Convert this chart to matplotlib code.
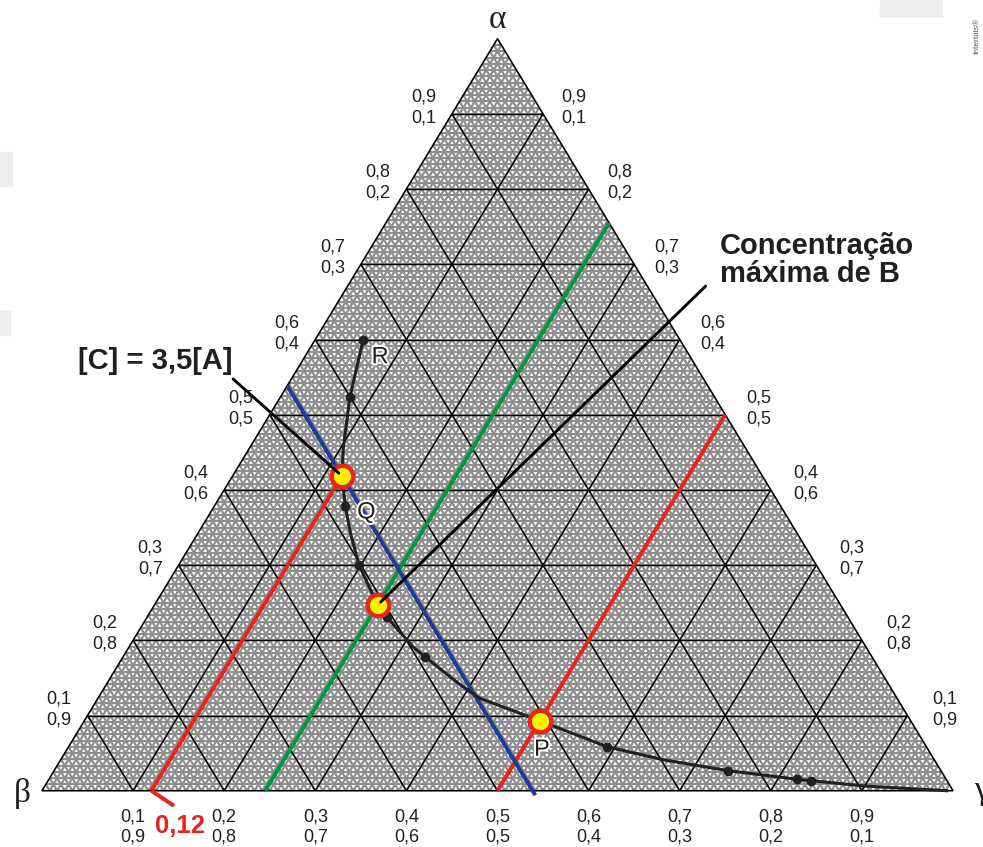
import numpy as np
import matplotlib.pyplot as plt
from matplotlib.collections import LineCollection
from matplotlib.patches import Polygon, Rectangle
import matplotlib.patheffects as pe

plt.rcParams['font.family'] = ['Liberation Sans', 'DejaVu Sans']

# solubility curve, as (alpha, gamma) fractions
curve_alpha = [0.599, 0.524, 0.453, 0.4185, 0.378, 0.343, 0.300, 0.247, 0.231,
               0.191, 0.178, 0.140, 0.123, 0.093, 0.0585, 0.041, 0.0266, 0.0152,
               0.0133, 0.0063, 0.0]
curve_gamma = [0.053, 0.076, 0.104, 0.120, 0.144, 0.167, 0.198, 0.245, 0.263,
               0.312, 0.3315, 0.390, 0.419, 0.500, 0.591, 0.662, 0.740, 0.821,
               0.838, 0.899, 0.993]

# measured points marked on the curve
dot_alpha = [0.599, 0.524, 0.378, 0.300, 0.231, 0.178, 0.0585, 0.0266, 0.0152, 0.0133]
dot_gamma = [0.053, 0.076, 0.144, 0.198, 0.263, 0.3315, 0.591, 0.740, 0.821, 0.838]

# highlighted points (on the red / green lines)
key_alpha = [0.4185, 0.247, 0.093]
key_gamma = [0.120, 0.245, 0.500]

red_gamma = [0.12, 0.50]
red_top = [0.4185, 0.50]
green_gamma = 0.245
blue_beta = 0.4615

ticks = [0.1, 0.2, 0.3, 0.4, 0.5, 0.6, 0.7, 0.8, 0.9]

INK = '#231f20'
RED = '#e4261c'
GREEN = '#06963f'
BLUE = '#1c3f94'
YELLOW = '#fff200'


def tern(a, c):
    a = np.asarray(a, dtype=float)
    c = np.asarray(c, dtype=float)
    return c + a / 2, a


def fmt(v):
    return ('%.1f' % v).replace('.', ',')


fig = plt.figure(figsize=(9.83, 8.47), dpi=100)
ax = fig.add_axes([0, 0, 1, 1])
ax.set_xlim(-42 / 911, 941 / 911)
ax.set_ylim(-56.3 / 752, 790.7 / 752)
ax.axis('off')

tri = Polygon([tern(0, 0), tern(1, 0), tern(0, 1)], closed=True,
              facecolor='white', edgecolor='none', zorder=0)
ax.add_patch(tri)

# fine triangular background pattern
segs = []
for t in np.arange(1, 120) / 120:
    segs.append([tern(t, 0), tern(t, 1 - t)])
    segs.append([tern(0, t), tern(1 - t, t)])
    segs.append([tern(0, 1 - t), tern(1 - t, 0)])
fine = LineCollection(segs, colors='#8e8e8e', linewidths=1.6, zorder=1)
ax.add_collection(fine)
fine.set_clip_path(tri)

# main grid
grid = []
for t in ticks:
    grid.append([tern(t, 0), tern(t, 1 - t)])
    grid.append([tern(0, t), tern(1 - t, t)])
    grid.append([tern(0, 1 - t), tern(1 - t, 0)])
ax.add_collection(LineCollection(grid, colors='black', linewidths=1.05, zorder=2))
ax.add_patch(Polygon([tern(0, 0), tern(1, 0), tern(0, 1)], closed=True,
                     fill=False, edgecolor='black', linewidth=1.2, zorder=3))

# constant-gamma lines and the blue constant-beta line
for g, top in zip(red_gamma, red_top):
    x, y = tern([0, top], [g, g])
    ax.plot(x, y, color=RED, lw=2.9, solid_capstyle='butt', zorder=4)
x, y = tern([0, 1 - green_gamma], [green_gamma, green_gamma])
ax.plot(x, y, color=GREEN, lw=2.9, solid_capstyle='butt', zorder=4)
x, y = tern([1 - blue_beta, -0.006], [0, 1 - blue_beta + 0.006])
ax.plot(x, y, color=BLUE, lw=2.9, solid_capstyle='butt', zorder=4)

# red leader from the base to the 0,12 label
x, y = tern([0, -0.0202], [red_gamma[0], 0.155])
ax.plot(x, y, color=RED, lw=2.9, solid_capstyle='butt', zorder=4)
ax.text(*tern(-0.0465, 0.1752), '0,12', color=RED, fontsize=18.5, fontweight='bold',
        ha='center', va='center', zorder=6)

# curve and its points
x, y = tern(curve_alpha, curve_gamma)
ax.plot(x, y, color=INK, lw=2.2, zorder=5)
x, y = tern(dot_alpha, dot_gamma)
ax.plot(x, y, 'o', color=INK, ms=6, zorder=5)
x, y = tern(key_alpha, key_gamma)
ax.plot(x, y, 'o', ms=15.5, mfc=YELLOW, mec=RED, mew=3.2, zorder=6)

halo = [pe.withStroke(linewidth=3, foreground='white')]
for txt, a, c, dx, dy in [('R', dot_alpha[0], dot_gamma[0], 17, -17),
                          ('Q', dot_alpha[2], dot_gamma[2], 21, -6),
                          ('P', key_alpha[2], key_gamma[2], 2, -29)]:
    ax.annotate(txt, xy=tern(a, c), xytext=(dx, dy), textcoords='offset pixels',
                ha='center', va='center', fontsize=17, color=INK,
                path_effects=halo, zorder=7)

# callouts
ax.annotate('', xy=tern(key_alpha[0], key_gamma[0]), xytext=tern(0.5475, -0.064),
            arrowprops=dict(arrowstyle='-', color='black', lw=2.1,
                            shrinkA=0, shrinkB=3), zorder=8)
ax.text(*tern(0.5608, -0.241), '[C] = 3,5[A]', fontsize=21, fontweight='bold',
        color=INK, ha='left', va='baseline', zorder=8)
ax.annotate('', xy=tern(key_alpha[1], key_gamma[1]), xytext=tern(0.671, 0.393),
            arrowprops=dict(arrowstyle='-', color='black', lw=2.1,
                            shrinkA=0, shrinkB=3), zorder=8)
ax.text(*tern(0.7137, 0.387), 'Concentração', fontsize=21, fontweight='bold',
        color=INK, ha='left', va='baseline', zorder=8)
ax.text(*tern(0.6765, 0.406), 'máxima de B', fontsize=21, fontweight='bold',
        color=INK, ha='left', va='baseline', zorder=8)

# edge labels
for t in ticks:
    # left edge: alpha over beta
    p = tern(t, 0)
    ax.annotate(fmt(t), xy=p, xytext=(-16, 17), textcoords='offset pixels',
                ha='right', va='center', fontsize=13, color=INK)
    ax.annotate(fmt(1 - t), xy=p, xytext=(-16, -4), textcoords='offset pixels',
                ha='right', va='center', fontsize=13, color=INK)
    # right edge: alpha over gamma
    p = tern(t, 1 - t)
    off = 17 + 9 * (1 - t)
    ax.annotate(fmt(t), xy=p, xytext=(off, 17), textcoords='offset pixels',
                ha='left', va='center', fontsize=13, color=INK)
    ax.annotate(fmt(1 - t), xy=p, xytext=(off, -4), textcoords='offset pixels',
                ha='left', va='center', fontsize=13, color=INK)
    # base: gamma over beta
    p = tern(0, t)
    ax.annotate(fmt(t), xy=p, xytext=(0, -26), textcoords='offset pixels',
                ha='center', va='center', fontsize=13, color=INK)
    ax.annotate(fmt(1 - t), xy=p, xytext=(0, -46), textcoords='offset pixels',
                ha='center', va='center', fontsize=13, color=INK)

# vertex names
greek = dict(fontsize=24, color=INK, ha='center', va='center',
             family=['Liberation Serif', 'DejaVu Serif'])
ax.annotate('α', xy=tern(1, 0), xytext=(0, 19), textcoords='offset pixels', **greek)
ax.annotate('β', xy=tern(0, 0), xytext=(-20, -3), textcoords='offset pixels', **greek)
ax.annotate('γ', xy=tern(0, 1), xytext=(28, 0), textcoords='offset pixels', **greek)

# faint marks in the margins
for x0, y0, w, h in [(0, 152, 12, 34), (0, 311, 10, 24), (880, 0, 62, 16)]:
    fig.add_artist(Rectangle((x0 / 983, 1 - (y0 + h) / 847), w / 983, h / 847,
                             transform=fig.transFigure, color='#eeeeee', zorder=-1))
fig.text(977 / 983, 1 - 36 / 847, 'Interbits®', rotation=90, fontsize=6,
         color='#555555', ha='center', va='center')

fig.savefig('out.png', dpi=100)
